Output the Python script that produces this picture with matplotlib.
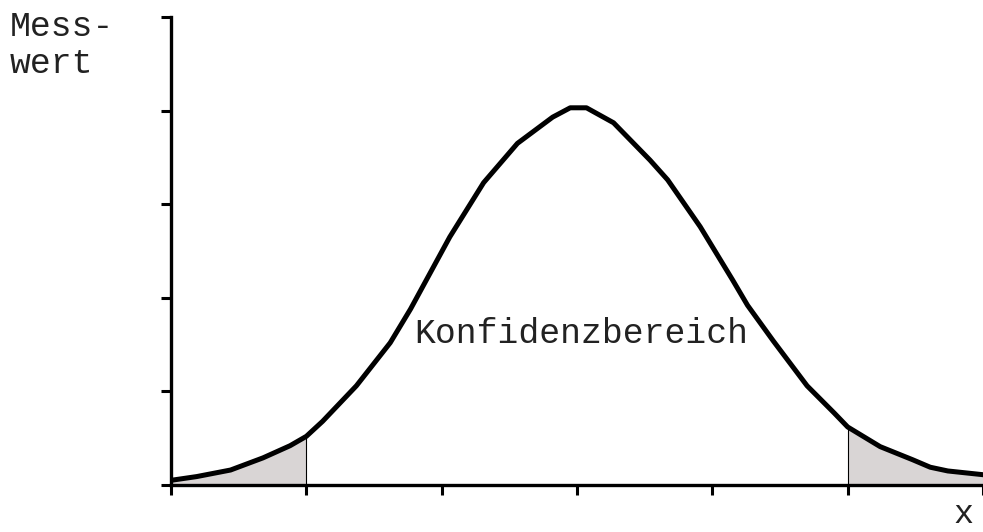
import matplotlib.pyplot as plt
import numpy as np

# Messkurve (Glockenform) mit Konfidenzbereich zwischen x=1 und x=5
x_vals = [0.0, 0.19, 0.44, 0.68, 0.88, 1.0, 1.12, 1.37, 1.62, 1.77, 2.06,
          2.31, 2.56, 2.82, 2.95, 3.07, 3.27, 3.54, 3.67, 3.91, 4.15, 4.26,
          4.45, 4.70, 4.90, 5.0, 5.24, 5.48, 5.61, 5.74, 6.0]
y_vals = [0.05, 0.09, 0.16, 0.29, 0.42, 0.52, 0.68, 1.06, 1.52, 1.88, 2.65,
          3.23, 3.65, 3.93, 4.03, 4.03, 3.87, 3.47, 3.26, 2.76, 2.19, 1.92,
          1.54, 1.06, 0.77, 0.62, 0.41, 0.27, 0.19, 0.15, 0.11]
grenzen = [1.0, 5.0]
x_ticks = [0, 1, 2, 3, 4, 5, 6]
y_ticks = [0, 1, 2, 3, 4, 5]

MONO = 'Liberation Mono'


def main():
    x = np.array(x_vals)
    y = np.array(y_vals)

    fig = plt.figure(figsize=(9.83, 5.32), dpi=100)
    ax = fig.add_axes([171 / 983, 47 / 532, 1 - 171 / 983, 468 / 532])

    # graue Flaechen ausserhalb des Konfidenzbereichs
    ax.fill_between(x, 0, y, where=(x <= grenzen[0]), color='#d9d5d5', lw=0)
    ax.fill_between(x, 0, y, where=(x >= grenzen[1]), color='#d9d5d5', lw=0)
    for g in grenzen:
        ax.plot([g, g], [0, np.interp(g, x, y)], color='black', lw=0.8)

    ax.plot(x, y, color='black', lw=3.6, solid_capstyle='round',
            solid_joinstyle='round', zorder=3)

    ax.set_xlim(0, 6)
    ax.set_ylim(0, 5)
    ax.set_xticks(x_ticks)
    ax.set_yticks(y_ticks)
    ax.set_xticklabels([])
    ax.set_yticklabels([])
    ax.tick_params(direction='out', length=7, width=2.2)
    for s in ['top', 'right']:
        ax.spines[s].set_visible(False)
    for s in ['left', 'bottom']:
        ax.spines[s].set_linewidth(2.4)
    ax.patch.set_alpha(0)

    ax.text(3.03, 1.52, 'Konfidenzbereich', family=MONO, fontsize=25,
            ha='center', va='baseline', color='#222222')

    fig.text(10 / 983, 1 - 10 / 532, 'Mess-\nwert', family=MONO, fontsize=25,
             ha='left', va='top', color='#222222', linespacing=1.15)
    fig.text(963 / 983, 2 / 532, 'x', family=MONO, fontsize=24,
             ha='center', va='bottom', color='#222222')

    fig.savefig('out.png', dpi=100)


if __name__ == '__main__':
    main()
